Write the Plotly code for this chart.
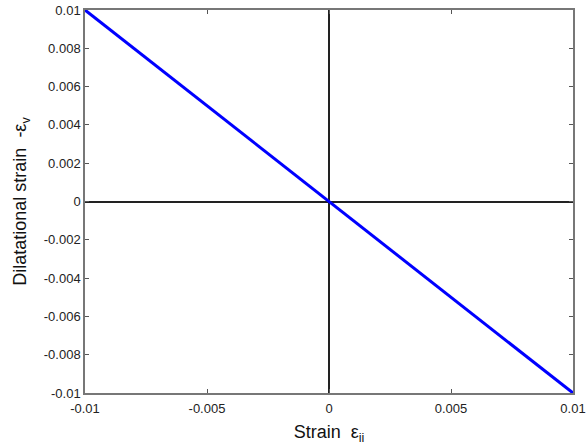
import plotly.graph_objects as go

# Strain path: axial strain vs. dilatational strain
strain = [-0.01, 0.0, 0.01]
dilatational = [0.01, 0.0, -0.01]

x_ticks = [-0.01, -0.005, 0, 0.005, 0.01]
x_labels = ["-0.01", "-0.005", "0", "0.005", "0.01"]
y_ticks = [-0.01, -0.008, -0.006, -0.004, -0.002, 0, 0.002, 0.004, 0.006, 0.008, 0.01]
y_labels = ["-0.01", "-0.008", "-0.006", "-0.004", "-0.002", "0",
            "0.002", "0.004", "0.006", "0.008", "0.01"]

FONT = "Liberation Sans, Arial, sans-serif"

fig = go.Figure()
fig.add_trace(go.Scatter(
    x=strain, y=dilatational, mode="lines",
    line=dict(color="#0000ff", width=3),
    showlegend=False,
))

axis_common = dict(
    showgrid=False, automargin=False,
    zeroline=True, zerolinecolor="#222222", zerolinewidth=1.5,
    showline=True, linecolor="#777777", linewidth=1.5, mirror="ticks",
    ticks="inside", ticklen=4, tickcolor="#555555", tickwidth=1,
    tickfont=dict(family=FONT, size=13, color="#222222"),
)

fig.update_layout(
    width=586, height=447,
    margin=dict(l=85, r=13, t=10, b=54),
    paper_bgcolor="white", plot_bgcolor="white",
    xaxis=dict(
        range=[-0.01, 0.01], tickvals=x_ticks, ticktext=x_labels,
        ticklabelstandoff=3,
        title=dict(text="Strain  ε<sub>ii</sub>", standoff=10,
                   font=dict(family=FONT, size=18, color="#111111")),
        **axis_common,
    ),
    yaxis=dict(
        range=[-0.01, 0.01], tickvals=y_ticks, ticktext=y_labels,
        title=dict(text="Dilatational strain  -ε<sub>v</sub>", standoff=12,
                   font=dict(family=FONT, size=18, color="#111111")),
        **axis_common,
    ),
)

fig.write_html("out.html")
